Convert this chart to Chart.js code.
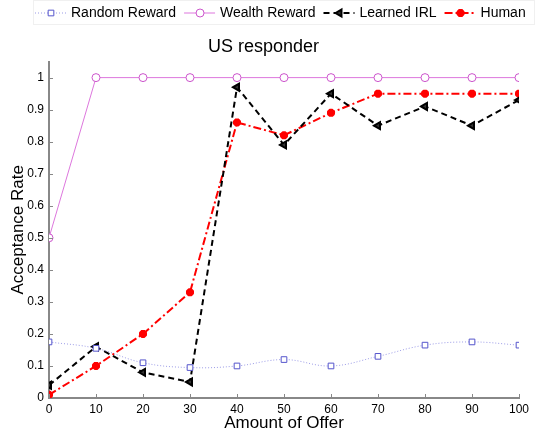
<!DOCTYPE html>
<html>
<head>
<meta charset="utf-8">
<script src="https://cdn.jsdelivr.net/npm/chart.js@4"></script>
<style>
  html, body { margin: 0; padding: 0; background: #fff; }
  #wrap { width: 535px; height: 434px; }
</style>
</head>
<body>
<div id="wrap"><canvas id="lineChart"></canvas></div>
<script>
const offers = [0, 10, 20, 30, 40, 50, 60, 70, 80, 90, 100];
const randomReward = [0.175, 0.155, 0.11, 0.095, 0.1, 0.12, 0.1, 0.13, 0.165, 0.175, 0.165];
const wealthReward = [0.5, 1, 1, 1, 1, 1, 1, 1, 1, 1, 1];
const learnedIRL = [0.04, 0.16, 0.08, 0.05, 0.97, 0.79, 0.95, 0.85, 0.91, 0.85, 0.93];
const human = [0.01, 0.1, 0.2, 0.33, 0.86, 0.82, 0.89, 0.95, 0.95, 0.95, 0.95];
const yTicks = [0, 0.1, 0.2, 0.3, 0.4, 0.5, 0.6, 0.7, 0.8, 0.9, 1];

const FONT = 'Arial, "Liberation Sans", sans-serif';

function toPoints(values) {
    return offers.map((x, i) => ({ x: x, y: values[i] }));
}

function drawMarker(ctx, ds, x, y) {
    ctx.save();
    ctx.strokeStyle = ds.pointBorderColor;
    ctx.fillStyle = ds.pointBackgroundColor;
    ctx.lineWidth = ds.pointBorderWidth;
    ctx.setLineDash([]);
    Chart.helpers.drawPoint(ctx, {
        pointStyle: ds.pointStyle,
        rotation: ds.pointRotation || 0,
        radius: ds.pointRadius,
        borderWidth: ds.pointBorderWidth
    }, x, y);
    ctx.restore();
}

// legend drawn by hand so each entry shows line style + marker
const lineLegend = {
    id: 'lineLegend',
    afterDraw(chart) {
        const ctx = chart.ctx;
        ctx.save();
        ctx.strokeStyle = '#f0f0f0';
        ctx.lineWidth = 1;
        ctx.strokeRect(33.5, 0.5, 501, 24);
        ctx.font = '14px ' + FONT;
        ctx.textBaseline = 'middle';
        let x = 35;
        const y = 13;
        chart.data.datasets.forEach(ds => {
            ctx.save();
            ctx.strokeStyle = ds.borderColor;
            ctx.lineWidth = ds.borderWidth;
            ctx.setLineDash(ds.borderDash || []);
            ctx.beginPath();
            ctx.moveTo(x, y);
            ctx.lineTo(x + 31, y);
            ctx.stroke();
            ctx.restore();
            drawMarker(ctx, ds, x + 16, y);
            ctx.fillStyle = '#000';
            ctx.fillText(ds.label, x + 36, y);
            x += 36 + ctx.measureText(ds.label).width + 8;
        });
        ctx.restore();
    }
};

// small inward tick marks, like the original figure
const innerTicks = {
    id: 'innerTicks',
    afterDatasetsDraw(chart) {
        const ctx = chart.ctx;
        const xs = chart.scales.x;
        const ys = chart.scales.y;
        const area = chart.chartArea;
        ctx.save();
        ctx.strokeStyle = '#888888';
        ctx.lineWidth = 1;
        ctx.beginPath();
        offers.forEach(v => {
            const px = Math.round(xs.getPixelForValue(v)) + 0.5;
            ctx.moveTo(px, area.bottom);
            ctx.lineTo(px, area.bottom - 4);
        });
        yTicks.forEach(v => {
            const py = Math.round(ys.getPixelForValue(v)) + 0.5;
            ctx.moveTo(area.left, py);
            ctx.lineTo(area.left + 4, py);
        });
        ctx.stroke();
        ctx.restore();
    }
};

const lineCtx = document.getElementById('lineChart').getContext('2d');
new Chart(lineCtx, {
    type: 'line',
    data: {
        datasets: [{
            label: 'Random Reward',
            data: toPoints(randomReward),
            borderColor: '#9a9ae6',
            borderWidth: 1,
            borderDash: [1, 2],
            tension: 0.4,
            pointStyle: 'rect',
            pointRadius: 4,
            pointBorderWidth: 1,
            pointBorderColor: '#5555cc',
            pointBackgroundColor: '#ffffff',
        }, {
            label: 'Wealth Reward',
            data: toPoints(wealthReward),
            borderColor: '#dd77dd',
            borderWidth: 1,
            pointStyle: 'circle',
            pointRadius: 4,
            pointBorderWidth: 1,
            pointBorderColor: '#cc55cc',
            pointBackgroundColor: '#ffffff',
        }, {
            label: 'Learned IRL',
            data: toPoints(learnedIRL),
            borderColor: '#000000',
            borderWidth: 2,
            borderDash: [6, 4],
            pointStyle: 'triangle',
            pointRotation: -90,
            pointRadius: 4,
            pointBorderWidth: 2,
            pointBorderColor: '#000000',
            pointBackgroundColor: '#333333',
        }, {
            label: 'Human',
            data: toPoints(human),
            borderColor: '#ff0000',
            borderWidth: 2,
            borderDash: [8, 3, 2, 3],
            pointStyle: 'star',
            pointRadius: 4,
            pointBorderWidth: 3,
            pointBorderColor: '#ff0000',
            pointBackgroundColor: '#ff0000',
        }],
    },
    options: {
        responsive: true,
        maintainAspectRatio: false,
        animation: false,
        layout: { padding: { left: 8, right: 16, top: 0, bottom: 0 } },
        plugins: {
            legend: { display: false },
            tooltip: { enabled: false },
            title: {
                display: true,
                text: 'US responder',
                color: '#000',
                font: { family: FONT, size: 18, weight: 'normal' },
                padding: { top: 36, bottom: 4 },
            },
        },
        scales: {
            x: {
                type: 'linear',
                min: 0,
                max: 100,
                afterBuildTicks: axis => { axis.ticks = offers.map(v => ({ value: v })); },
                afterFit: axis => { axis.height = 36; },
                grid: { display: false, drawTicks: false },
                border: { color: '#888888', width: 2 },
                ticks: {
                    color: '#000',
                    padding: 4,
                    maxRotation: 0,
                    font: { family: FONT, size: 12 },
                },
                title: {
                    display: true,
                    text: 'Amount of Offer',
                    color: '#000',
                    padding: 0,
                    font: { family: FONT, size: 17 },
                },
            },
            y: {
                min: 0,
                max: 1.05,
                afterBuildTicks: axis => { axis.ticks = yTicks.map(v => ({ value: v })); },
                afterFit: axis => { axis.width = 41; },
                grid: { display: false, drawTicks: false },
                border: { color: '#888888', width: 2 },
                ticks: {
                    color: '#000',
                    padding: 5,
                    font: { family: FONT, size: 12 },
                    callback: v => String(v),
                },
                title: {
                    display: true,
                    text: 'Acceptance Rate',
                    color: '#000',
                    padding: 0,
                    font: { family: FONT, size: 17 },
                },
            },
        },
    },
    plugins: [innerTicks, lineLegend],
});
</script>
</body>
</html>
